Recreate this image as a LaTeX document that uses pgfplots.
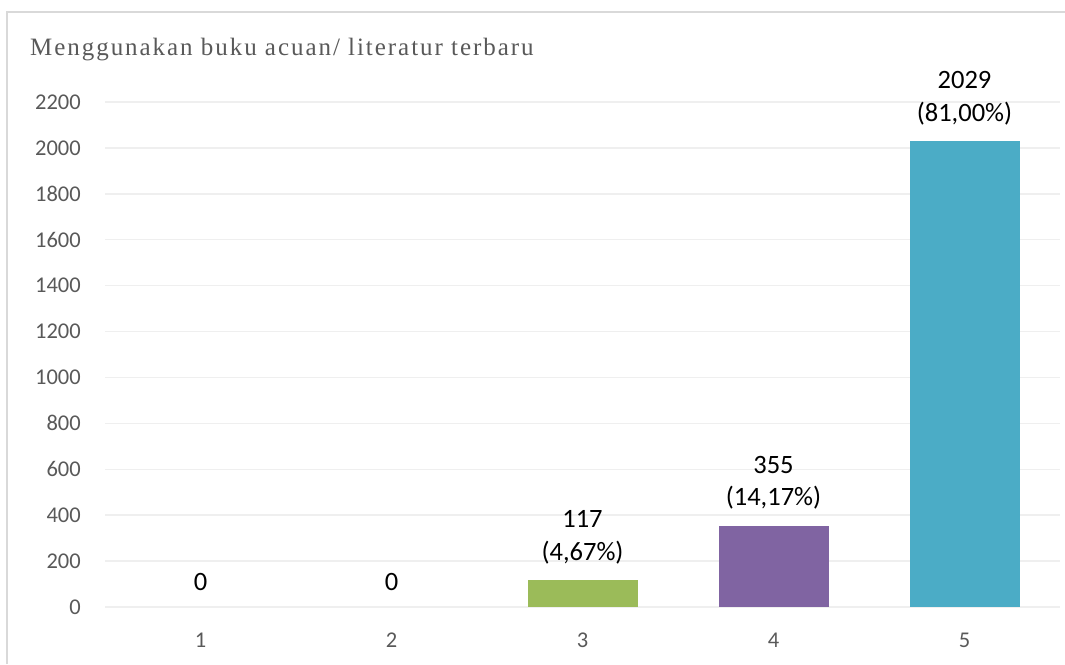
\documentclass[border=0pt]{standalone}
\usepackage{fontspec}
\setmainfont{Carlito}
\newfontfamily\titlefont[LetterSpace=7.8]{Liberation Serif}
\usepackage{pgfplots}
\pgfplotsset{compat=1.18}
\definecolor{tickgray}{HTML}{595959}
\definecolor{titlegray}{HTML}{595959}
\definecolor{gridgray}{HTML}{EFEFEF}
\definecolor{axisgray}{HTML}{BFBFBF}
\definecolor{framegray}{HTML}{D9D9D9}
\definecolor{cgreen}{HTML}{9BBB59}
\definecolor{cpurple}{HTML}{8064A2}
\definecolor{cteal}{HTML}{4BACC6}
\begin{document}
\begin{tikzpicture}
\path[use as bounding box] (0pt,0pt) rectangle (1065pt,664pt);
\draw[color=framegray, line width=1.5pt] (7pt,0pt) -- (7pt,652pt) -- (1065pt,652pt);
\node[anchor=base west, inner sep=0, text=titlegray, font=\titlefont\fontsize{25}{29}\selectfont] at (30pt,608pt) {Menggunakan buku acuan/ literatur terbaru};
\begin{axis}[
  at={(105pt,57pt)}, anchor=south west,
  width=955pt, height=505pt, scale only axis,
  xmin=0.5, xmax=5.5, ymin=0, ymax=2200,
  axis line style={draw=none},
  xtick={1,2,3,4,5},
  ytick={0,200,...,2200},
  ymajorgrids,
  major grid style={color=gridgray, line width=1.5pt},
  major tick length=0pt,
  scaled y ticks=false,
  /pgf/number format/1000 sep={},
  /pgf/number format/assume math mode=true,
  tick label style={font=\fontsize{22.5}{26}\selectfont, text=tickgray},
  xticklabel style={anchor=center, yshift=-33pt},
  yticklabel style={anchor=east, inner sep=0pt, xshift=-24pt},
  extra y ticks={0},
  extra y tick labels={},
  extra y tick style={grid style={color=axisgray, line width=3pt}},
  clip=false,
]
\addplot[ybar, bar width=110pt, fill=cgreen, draw=none] coordinates {(3,117)};
\addplot[ybar, bar width=110pt, fill=cpurple, draw=none] coordinates {(4,355)};
\addplot[ybar, bar width=110pt, fill=cteal, draw=none] coordinates {(5,2029)};
\addplot[draw=none, mark=none, nodes near coords, point meta=explicit symbolic,
  every node near coord/.append style={anchor=south, inner sep=0pt, yshift=16pt, align=center, font=\fontsize{26.5}{32.5}\selectfont, text=black}]
  coordinates {(1,0) [0] (2,0) [0] (3,117) [{117\\(4,67\%)}] (4,355) [{355\\(14,17\%)}] (5,2029) [{2029\\(81,00\%)}]};
\end{axis}
\end{tikzpicture}
\end{document}
